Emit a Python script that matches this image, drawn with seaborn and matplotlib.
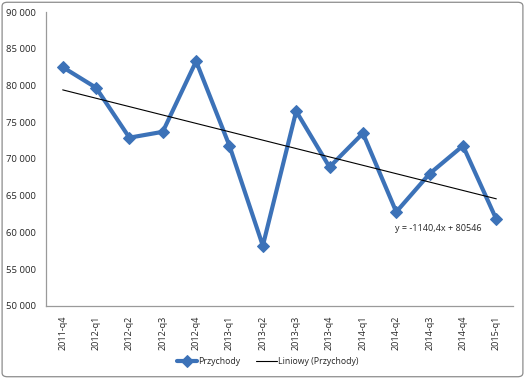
import numpy as np
import pandas as pd
import matplotlib
matplotlib.use("Agg")
import matplotlib.pyplot as plt
import seaborn as sns
from matplotlib.patches import FancyBboxPatch
from matplotlib.ticker import FuncFormatter

quarters = ["2011-q4", "2012-q1", "2012-q2", "2012-q3", "2012-q4", "2013-q1", "2013-q2",
            "2013-q3", "2013-q4", "2014-q1", "2014-q2", "2014-q3", "2014-q4", "2015-q1"]
przychody = [82500, 79700, 72900, 73700, 83300, 71800, 58200,
             76500, 68900, 73500, 62800, 68000, 71800, 61800]
trend_slope = -1140.4
trend_intercept = 80546

df = pd.DataFrame({"pos": np.arange(len(quarters)), "quarter": quarters, "value": przychody})
df["trend"] = trend_slope * (df["pos"] + 1) + trend_intercept

sns.set_style("white")
plt.rcParams["font.family"] = ["Open Sans", "DejaVu Sans"]

fig = plt.figure(figsize=(5.25, 3.79), dpi=100)
ax = fig.add_axes([46 / 525, 1 - 306 / 379, (513 - 46) / 525, (306 - 12) / 379])

blue = "#3C72B8"
sns.lineplot(data=df, x="pos", y="value", ax=ax, color=blue, linewidth=3.0,
             marker="D", markersize=6, markeredgecolor=blue, label="Przychody")
sns.lineplot(data=df, x="pos", y="trend", ax=ax, color="black", linewidth=0.8,
             label="Liniowy (Przychody)")

ax.set_xlim(-0.5, len(quarters) - 0.5)
ax.set_ylim(50000, 90000)
ax.set_yticks(range(50000, 90001, 5000))
ax.yaxis.set_major_formatter(FuncFormatter(lambda v, p: f"{int(v):,}".replace(",", " ")))
ax.set_xticks(df["pos"])
ax.set_xticklabels(quarters, rotation=90, fontsize=6.5)
ax.tick_params(axis="y", labelsize=6.8, length=0, pad=7)
ax.tick_params(axis="x", length=0, pad=7)
ax.set_xlabel("")
ax.set_ylabel("")
for side in ["top", "right"]:
    ax.spines[side].set_visible(False)
for side in ["left", "bottom"]:
    ax.spines[side].set_color("#9a9a9a")
    ax.spines[side].set_linewidth(0.9)

ax.text(12.55, 60600, "y = -1140,4x + 80546", fontsize=6.5, ha="right", va="center")

ax.get_legend().remove()
handles, labels = ax.get_legend_handles_labels()
fig.legend(handles, labels, loc="center", bbox_to_anchor=(0.51, 1 - 362 / 379), ncol=2,
           frameon=False, fontsize=6.3, handlelength=2.3, columnspacing=1.8, handletextpad=0.2)

border = FancyBboxPatch((0.004, 0.006), 0.992, 0.988, boxstyle="round,pad=0,rounding_size=0.01",
                        transform=fig.transFigure, fill=False, edgecolor="#8c8c8c", linewidth=0.9)
fig.patches.append(border)

fig.savefig("out.png", dpi=100)
